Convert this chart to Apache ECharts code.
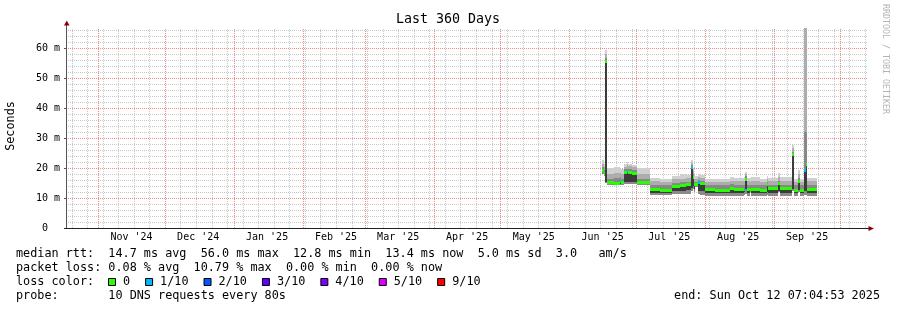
<!DOCTYPE html>
<html><head><meta charset="utf-8">
<script src="https://cdn.jsdelivr.net/npm/echarts@6/dist/echarts.min.js"></script>
<style>html,body{margin:0;padding:0;background:#fff}#c{width:897px;height:310px}</style>
</head><body><div id="c"></div>
<script>
const DAY = 86400000;
const chartTitle = 'Last 360 Days';
const yAxisName = 'Seconds';
const watermark = 'RRDTOOL / TOBI OETIKER';
const graphEnd = Date.UTC(2025, 9, 12, 23, 4, 53);
const spanDays = 360;
const dataBase = Date.UTC(2025, 5, 1); // segment start days counted from 1 Jun 2025
const segDay = [14.7, 15.4, 16.1, 17.0, 20.0, 22.8, 23.3, 24.8, 26.0, 26.4, 28.2, 30.5,
  36.3, 40.8, 46.2, 49.8, 52.5, 54.7, 55.6, 56.1, 56.6, 57.9, 58.8, 61.0,
  65.5, 72.3, 74.1, 78.6, 79.0, 79.9, 81.3, 81.7, 85.8, 88.9, 89.6, 93.9,
  94.8, 100.2, 101.1, 102.9, 103.8, 105.8, 106.5, 107.1];
const dataEndDay = 111.5;
// values in ms
const smokeLo = [18.0,17.3,15.0,14.5,14.4,14.4,14.4,14.8,14.8,14.8,14.7,14.5,
  11.0,11.0,11.2,11.2,11.3,12.5,13.0,12.0,13.8,11.5,11.0,10.6,
  10.6,10.8,10.6,11.0,11.5,10.6,12.0,10.6,10.6,11.0,10.6,12.0,
  10.6,12.5,10.6,12.0,10.6,11.0,11.0,10.6];
const smokeDark = [18.6,17.9,15.4,14.8,14.8,14.8,14.8,15.3,15.3,15.3,15.2,14.9,
  11.8,11.8,12.2,12.4,12.6,13.5,14.0,13.0,14.2,12.5,12.2,11.6,
  11.6,11.8,11.6,12.0,13.0,11.6,12.3,11.6,11.6,12.0,11.6,12.5,
  11.6,13.0,11.6,12.7,11.6,12.5,12.5,11.6];
const medianRtt = [19.3,18.4,55.6,15.2,15.1,15.8,15.2,18.8,18.9,18.6,18.2,15.3,
  12.9,12.7,13.9,14.2,14.6,20.2,17.1,14.6,14.8,15.3,15.0,12.9,
  12.7,13.5,12.9,13.0,16.5,12.9,12.8,13.0,12.7,14.8,13.2,14.9,
  13.2,24.6,12.8,15.8,12.8,19.5,21.3,13.0];
const smokeU1 = [20.3,19.3,56.8,16.4,16.6,16.9,16.5,19.6,19.8,19.6,19.2,16.5,
  14.3,14.2,15.0,15.3,15.5,21.0,18.0,15.5,15.5,16.0,15.8,14.3,
  14.2,14.6,14.3,14.5,17.2,14.3,14.2,14.4,14.2,15.5,14.4,15.8,
  14.5,25.5,14.2,16.8,14.2,32.0,32.0,14.4];
const smokeU2 = [21.5,20.2,58.0,17.9,18.2,18.3,18.0,20.4,20.9,20.6,20.2,18.0,
  15.6,15.5,16.2,16.5,16.7,21.8,19.0,16.5,16.5,17.0,16.8,15.5,
  15.4,15.8,15.6,15.8,18.0,15.6,15.5,15.7,15.4,16.5,15.6,17.0,
  15.8,26.6,15.4,18.0,15.4,68.0,68.0,15.6];
const smokeHi = [22.7,21.2,59.5,19.9,20.2,20.0,19.8,21.2,21.9,21.5,21.0,20.0,
  16.8,16.5,17.3,18.0,17.6,22.7,20.0,17.5,17.2,18.0,17.8,16.5,
  16.3,17.0,16.6,17.0,18.8,16.8,16.6,17.0,16.5,17.5,16.8,18.5,
  17.0,27.7,16.5,19.3,16.5,70.0,70.0,16.6];
const lossTenths = [0,0,0,0,0,1,0,0,1,0,0,0,
  0,0,0,0,0,1,0,0,0,1,0,0,
  0,0,0,1,0,0,0,0,0,0,0,0,
  0,0,0,0,0,1,0,0];
const monthStarts = ['2024-11-01','2024-12-01','2025-01-01','2025-02-01','2025-03-01','2025-04-01',
  '2025-05-01','2025-06-01','2025-07-01','2025-08-01','2025-09-01','2025-10-01'];
const monthLabels = ["Nov '24","Dec '24","Jan '25","Feb '25","Mar '25","Apr '25",
  "May '25","Jun '25","Jul '25","Aug '25","Sep '25"];
const yTickValues = [0, 10, 20, 30, 40, 50, 60];
const yMax = 200 / 3;
const lossLabels = ['0', '1/10', '2/10', '3/10', '4/10', '5/10', '9/10'];
const lossLevels = [0, 1, 2, 3, 4, 5, 9];
const lossColors = ['#26ff00', '#00b8ff', '#0059ff', '#5e00ff', '#7e00ff', '#dd00ff', '#ff0000'];
const statLines = [
  'median rtt:  14.7 ms avg  56.0 ms max  12.8 ms min  13.4 ms now  5.0 ms sd  3.0   am/s',
  'packet loss: 0.08 % avg  10.79 % max  0.00 % min  0.00 % now'
];
const lossTitle = 'loss color:';
const probeLine = 'probe:       10 DNS requests every 80s';
const endLine = 'end: Sun Oct 12 07:04:53 2025';

// ---------- build ----------
const MONO = '"DejaVu Sans Mono", monospace';
const graphStart = graphEnd - spanDays * DAY;
const smokeShades = ['#8a8a8a', '#3c3c3c', '#888888', '#adadad', '#d0d0d0'];
const segs = segDay.map((d, i) => {
  const t0 = dataBase + d * DAY;
  const t1 = dataBase + (i + 1 < segDay.length ? segDay[i + 1] : dataEndDay) * DAY;
  return [t0, t1, smokeLo[i], smokeDark[i], medianRtt[i], smokeU1[i], smokeU2[i], smokeHi[i], lossTenths[i]];
});
const monthTs = monthStarts.map(s => Date.parse(s + 'T00:00:00Z'));
const labelTs = monthTs.slice(0, monthLabels.length).map(t => t + 15 * DAY);

const gridMinor = '#c8c8c8', gridMajor = '#f08888';
const vMinor = [], vMajor = [], hMinor = [], hMajor = [];
let w = new Date(graphStart);
w = Date.UTC(w.getUTCFullYear(), w.getUTCMonth(), w.getUTCDate() + 1);
while (new Date(w).getUTCDay() !== 0) w += DAY;
for (; w < graphEnd; w += 7 * DAY) vMinor.push(w);
monthTs.forEach(t => { if (t > graphStart && t < graphEnd) vMajor.push(t); });
for (let v = 2; v < yMax; v += 2) if (v % 10 !== 0) hMinor.push(v);
yTickValues.forEach(v => { if (v > 0) hMajor.push(v); });

// dotted grid lines drawn as a filled path of 1x1 pixel squares (1 on, 1 off)
const vGridRenderer = color => (params, api) => {
  const cs = params.coordSys;
  const x = Math.round(api.coord([api.value(0), 0])[0]);
  let d = '';
  for (let y = cs.y + cs.height - 1; y >= cs.y; y -= 2) d += 'M' + x + ' ' + y + 'h1v1h-1z';
  return { type: 'path', shape: { pathData: d }, style: { fill: color, stroke: null, lineWidth: 0 } };
};
const hGridRenderer = color => (params, api) => {
  const cs = params.coordSys;
  const y = Math.round(api.coord([graphStart, api.value(0)])[1]);
  let d = '';
  for (let x = cs.x + 1; x < cs.x + cs.width; x += 2) d += 'M' + x + ' ' + y + 'h1v1h-1z';
  return { type: 'path', shape: { pathData: d }, style: { fill: color, stroke: null, lineWidth: 0 } };
};

function colorForLoss(l) { const k = lossLevels.indexOf(l); return lossColors[k < 0 ? lossColors.length - 1 : k]; }

function renderSmoke(params, api) {
  const t0 = api.value(0), t1 = api.value(1);
  const lv = [api.value(2), api.value(3), api.value(4), api.value(5), api.value(6), api.value(7)];
  const children = [];
  for (let k = 0; k < 5; k++) {
    const a = api.coord([t0, lv[k]]), b = api.coord([t1, lv[k + 1]]);
    const x0 = Math.round(a[0]), x1 = Math.round(b[0]);
    const yb = Math.round(a[1]), yt = Math.round(b[1]);
    if (yb - yt <= 0) continue;
    children.push({ type: 'rect', shape: { x: x0, y: yt, width: x1 - x0, height: yb - yt }, style: { fill: smokeShades[k] } });
  }
  return { type: 'group', children };
}
function renderMedian(params, api) {
  const a = api.coord([api.value(0), api.value(4)]), b = api.coord([api.value(1), api.value(4)]);
  const x0 = Math.round(a[0]), x1 = Math.round(b[0]);
  const y = Math.round(a[1]);
  return { type: 'rect', shape: { x: x0, y: y - 1, width: x1 - x0, height: 3 }, style: { fill: colorForLoss(api.value(8)) } };
}

const textEl = (text, x, y, extra) => ({
  type: 'text', silent: true,
  style: Object.assign({ text, x, y, font: '11.8px ' + MONO, fill: '#000',
    align: 'left', verticalAlign: 'middle', textAlign: 'left', textVerticalAlign: 'middle' }, extra || {})
});

const graphics = [];
graphics.push(textEl(chartTitle, 448, 20, { font: '13.3px ' + MONO, align: 'center', textAlign: 'center' }));
graphics.push({ type: 'text', silent: true, x: 11, y: 126, rotation: Math.PI / 2,
  style: { text: yAxisName, x: 0, y: 0, font: '11.8px ' + MONO, fill: '#000', align: 'center', verticalAlign: 'middle', textAlign: 'center', textVerticalAlign: 'middle' } });
graphics.push({ type: 'text', silent: true, x: 885, y: 59, rotation: -Math.PI / 2,
  style: { text: watermark, x: 0, y: 0, font: '8.3px ' + MONO, fill: '#b4b4b4', align: 'center', verticalAlign: 'middle', textAlign: 'center', textVerticalAlign: 'middle' } });
// axes lines and arrows
graphics.push({ type: 'line', silent: true, z: 10, shape: { x1: 66.5, y1: 228, x2: 66.5, y2: 24 }, style: { stroke: '#555', lineWidth: 1 } });
graphics.push({ type: 'line', silent: true, z: 10, shape: { x1: 64, y1: 228.5, x2: 869, y2: 228.5 }, style: { stroke: '#222', lineWidth: 1 } });
graphics.push({ type: 'polygon', silent: true, z: 10, shape: { points: [[64, 25.5], [69.5, 25.5], [66.75, 20.5]] }, style: { fill: '#8b0000' } });
graphics.push({ type: 'polygon', silent: true, z: 10, shape: { points: [[868.5, 226], [868.5, 231], [874, 228.5]] }, style: { fill: '#8b0000' } });
// legend text
const lineY = [254, 268, 282, 296];
const charW = 11.8 * 0.602;
statLines.forEach((s, i) => graphics.push(textEl(s, 16, lineY[i])));
graphics.push(textEl(lossTitle, 16, lineY[2]));
let bx = 108;
lossLabels.forEach((lab, i) => {
  graphics.push({ type: 'rect', silent: true, shape: { x: bx + 0.5, y: lineY[2] - 3.5, width: 7, height: 7 }, style: { fill: lossColors[i], stroke: '#000', lineWidth: 1 } });
  graphics.push(textEl(lab, bx + 15, lineY[2]));
  bx += 15 + lab.length * charW + 15;
});
graphics.push(textEl(probeLine, 16, lineY[3]));
graphics.push(textEl(endLine, 880, lineY[3], { align: 'right', textAlign: 'right' }));

const gridSeries = (data, renderer, color, dim) => ({
  type: 'custom', z: 1, silent: true, renderItem: renderer(color),
  itemStyle: { color: color }, data: data.map(v => [v]), encode: dim === 'x' ? { x: 0 } : { y: 0 }
});

const chart = echarts.init(document.getElementById('c'), null, { renderer: 'canvas' });
chart.setOption({
  animation: false,
  backgroundColor: '#fff',
  grid: { left: 67, right: 30, top: 28, bottom: 82, containLabel: false },
  xAxis: {
    type: 'value', min: graphStart, max: graphEnd,
    axisLine: { show: false }, axisTick: { show: false }, splitLine: { show: false },
    axisLabel: {
      customValues: labelTs, margin: 4, color: '#000', fontSize: 10, fontFamily: MONO,
      formatter: v => { const k = labelTs.indexOf(v); return k >= 0 ? monthLabels[k] : ''; }
    }
  },
  yAxis: {
    type: 'value', min: 0, max: yMax,
    axisLine: { show: false }, splitLine: { show: false },
    axisTick: { show: true, customValues: yTickValues, length: 3, lineStyle: { color: '#555' } },
    axisLabel: {
      customValues: yTickValues, margin: 7, color: '#000', fontSize: 10, fontFamily: MONO,
      formatter: v => v === 0 ? '0  ' : v + ' m'
    }
  },
  series: [
    gridSeries(vMinor, vGridRenderer, gridMinor, 'x'),
    gridSeries(hMinor, hGridRenderer, gridMinor, 'y'),
    gridSeries(vMajor, vGridRenderer, gridMajor, 'x'),
    gridSeries(hMajor, hGridRenderer, gridMajor, 'y'),
    { type: 'custom', z: 2, clip: true, silent: true, renderItem: renderSmoke, data: segs,
      encode: { x: [0, 1], y: [2, 3, 4, 5, 6, 7] } },
    { type: 'custom', z: 3, clip: true, silent: true, renderItem: renderMedian, data: segs,
      encode: { x: [0, 1], y: [4] } }
  ],
  graphic: { elements: graphics }
});
</script></body></html>
